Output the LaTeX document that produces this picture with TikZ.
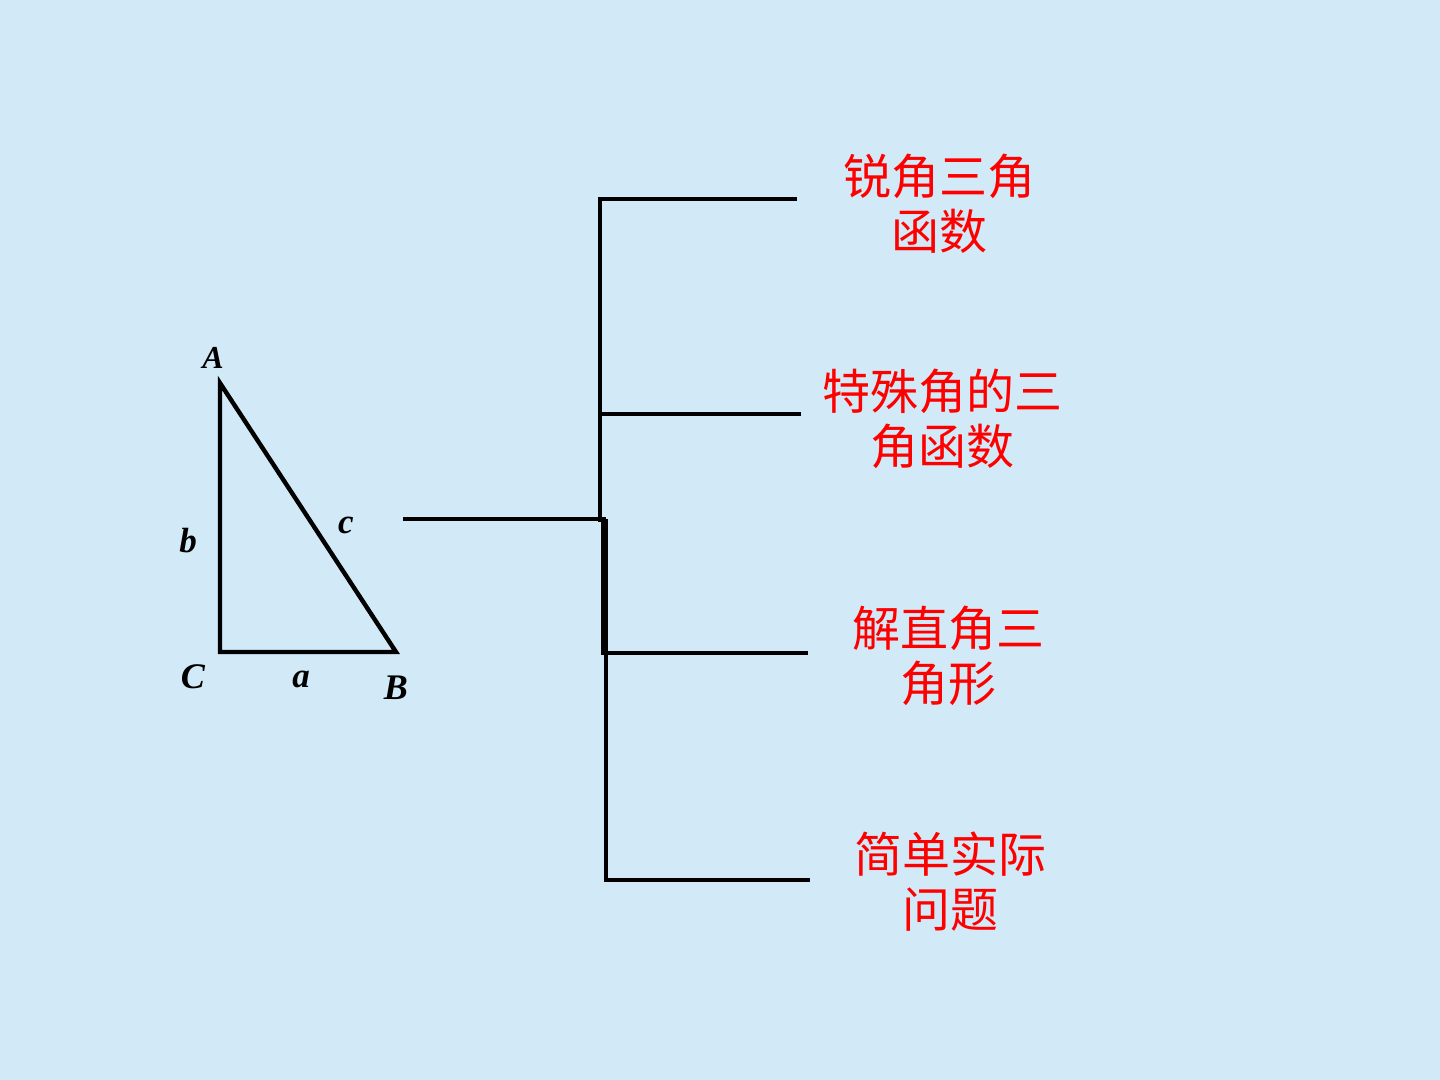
\documentclass[tikz,border=0pt]{standalone}
\usepackage{fontspec}
\setmainfont{Liberation Serif}
\newfontfamily\cjk{Noto Sans CJK SC}
\definecolor{bgblue}{RGB}{210,234,247}
\definecolor{txtred}{RGB}{255,0,0}
\begin{document}
\begin{tikzpicture}[x=0.5pt,y=-0.5pt,
  edge/.style={line width=2.2pt,black},
  vlabel/.style={font=\bfseries\itshape\fontsize{18}{18}\selectfont,inner sep=0pt},
  slabel/.style={font=\bfseries\itshape\fontsize{17.5}{17.5}\selectfont,inner sep=0pt},
  topic/.style={font=\cjk\fontsize{24}{27.5}\selectfont,text=txtred,align=center,inner sep=0pt}]
\fill[bgblue] (0,0) rectangle (1440,1080);
\useasboundingbox (0,0) rectangle (1440,1080);
% triangle
\coordinate (A) at (220,383);
\coordinate (C) at (220,652);
\coordinate (B) at (396,652);
\draw[edge,line join=miter] (A) -- (C) -- (B) -- cycle;
\node[vlabel,font=\bfseries\itshape\fontsize{16}{16}\selectfont] (lA) at (213,358) {A};
\node[vlabel] (lC) at (193,677) {C};
\node[vlabel] (lB) at (396,688) {B};
\node[slabel] (la) at (301,679) {a};
\node[slabel] (lb) at (188,541) {b};
\node[slabel] (lc) at (346,525) {c};
% bracket
\coordinate (s) at (403,519);
\coordinate (j) at (606,519);
\coordinate (t1) at (600,199);
\coordinate (e1) at (797,199);
\coordinate (t2) at (600,414);
\coordinate (e2) at (801,414);
\coordinate (t3) at (606,653);
\coordinate (e3) at (808,653);
\coordinate (t4) at (606,880);
\coordinate (e4) at (810,880);
\draw[edge] (s) -- (j);
\draw[edge] (e1) -- (t1) -- (600,522);
\draw[edge] (t2) -- (e2);
\draw[edge] (603,517) -- (603,655);
\draw[edge] (j) -- (t4) -- (e4);
\draw[edge] (t3) -- (e3);
% texts
\node[topic] (n1) at (939,204) {锐角三角\\函数};
\node[topic] (n2) at (942,419) {特殊角的三\\角函数};
\node[topic] (n3) at (948,656) {解直角三\\角形};
\node[topic] (n4) at (950,882) {简单实际\\问题};
\end{tikzpicture}
\end{document}
